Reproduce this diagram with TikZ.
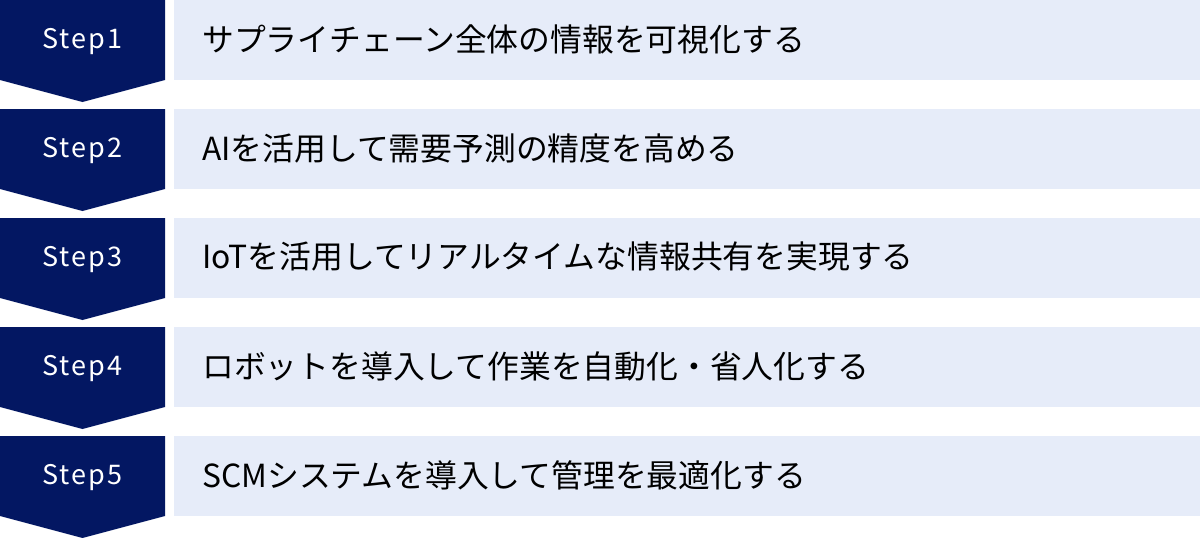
\documentclass[tikz,border=0pt]{standalone}
\usepackage{fontspec}
\setmainfont{Noto Sans CJK JP}
\definecolor{navy}{HTML}{031762}
\definecolor{pale}{HTML}{E6ECF9}
\begin{document}
\begin{tikzpicture}[x=1pt,y=-1pt,
  steptext/.style={text=white,font=\fontsize{27}{30}\selectfont,anchor=center},
  boxtext/.style={text=black,font=\fontsize{31.8}{36}\selectfont,anchor=west,inner sep=0pt}]
\useasboundingbox (0,0) rectangle (1200,538);
\foreach \i/\t in {1/{サプライチェーン全体の情報を可視化する},2/{AIを活用して需要予測の精度を高める},3/{IoTを活用してリアルタイムな情報共有を実現する},4/{ロボットを導入して作業を自動化・省人化する},5/{SCMシステムを導入して管理を最適化する}}{
  \pgfmathsetmacro{\yy}{(\i-1)*109}
  \fill[navy] (0,\yy) -- (165,\yy) -- (165,\yy+80) -- (82.5,\yy+102) -- (0,\yy+80) -- cycle;
  \fill[pale] (174,\yy) rectangle (1200,\yy+80);
  \node[steptext] (s\i) at (82.5,\yy+42) {\addfontfeature{LetterSpace=8}Step\i};
  \node[boxtext] (t\i) at (202,\yy+39) {\t};
}
\end{tikzpicture}
\end{document}
